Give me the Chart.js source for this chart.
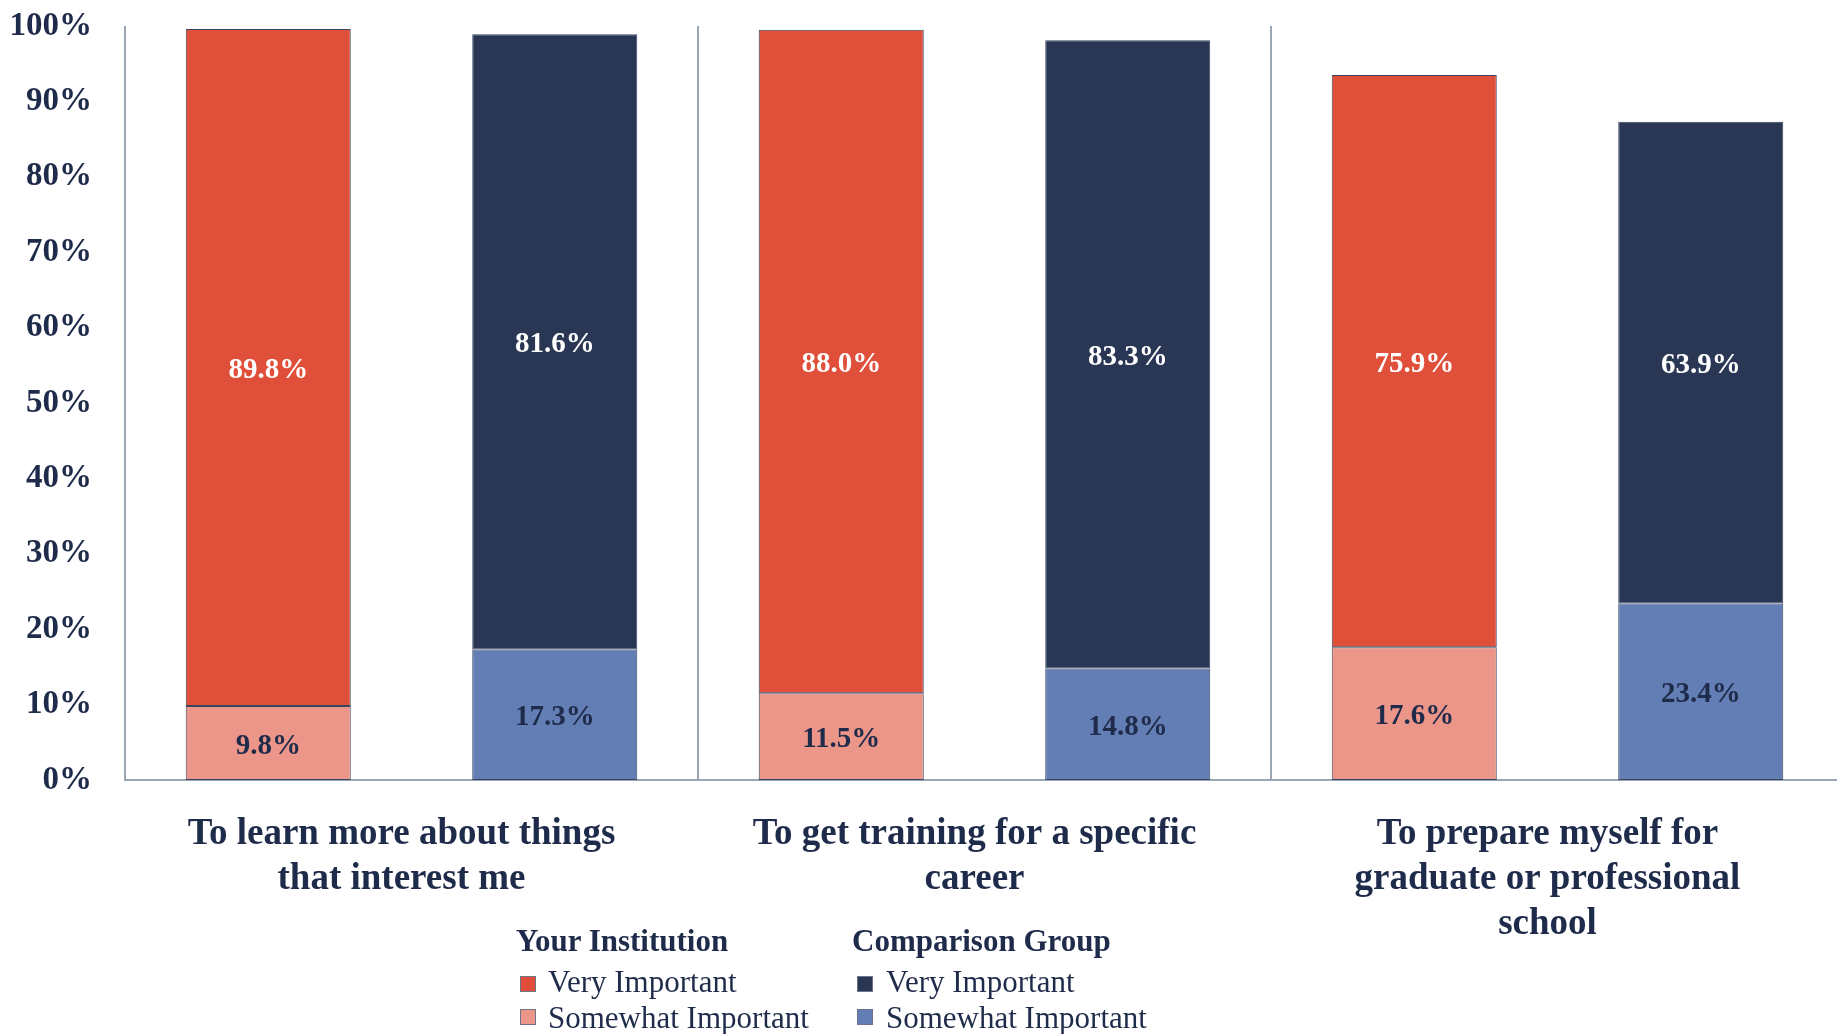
<!DOCTYPE html>
<html>
<head>
<meta charset="utf-8">
<script src="https://cdn.jsdelivr.net/npm/chart.js@4"></script>
<style>
  html, body { margin: 0; padding: 0; background: #ffffff; overflow: hidden; }
  #wrap { position: relative; width: 1837px; height: 1034px; overflow: hidden; }
  #c { position: absolute; left: 0; top: 0; }
  .lg { position: absolute; font-family: "Liberation Serif", serif; color: #1f2b4a; font-size: 31px; line-height: 31px; white-space: nowrap; }
  .hd { font-weight: bold; }
  .sw { position: absolute; width: 16px; height: 16px; border: 1px solid #6b7488; box-sizing: border-box; }
</style>
</head>
<body>
<div id="wrap">
  <canvas id="c" width="1844" height="1034"></canvas>
  <div class="lg hd" style="left:516px; top:925px;">Your Institution</div>
  <div class="sw" style="left:520px; top:976px; background:#E04F39;"></div>
  <div class="lg" style="left:548px; top:966px;">Very Important</div>
  <div class="sw" style="left:520px; top:1009px; background:#EC9589;"></div>
  <div class="lg" style="left:548px; top:1002px;">Somewhat Important</div>
  <div class="lg hd" style="left:852px; top:925px;">Comparison Group</div>
  <div class="sw" style="left:857px; top:976px; background:#293755;"></div>
  <div class="lg" style="left:886px; top:966px;">Very Important</div>
  <div class="sw" style="left:857px; top:1009px; background:#637EB4;"></div>
  <div class="lg" style="left:886px; top:1002px;">Somewhat Important</div>
</div>
<script>
const categories = [
  ["To learn more about things", "that interest me"],
  ["To get training for a specific", "career"],
  ["To prepare myself for", "graduate or professional", "school"]
];
const instVery = [89.8, 88.0, 75.9];
const instSomewhat = [9.8, 11.5, 17.6];
const compVery = [81.6, 83.3, 63.9];
const compSomewhat = [17.3, 14.8, 23.4];
const yTicks = [0, 10, 20, 30, 40, 50, 60, 70, 80, 90, 100];

const FONT = "'Liberation Serif', serif";
const NAVY_TEXT = '#1f2b4a';
const AXIS_GRAY = '#9ba6b4';

const barLabels = {
  id: 'barLabels',
  afterDatasetsDraw(chart) {
    const ctx = chart.ctx;
    ctx.save();
    ctx.font = "bold 29px " + FONT;
    ctx.textAlign = 'center';
    ctx.textBaseline = 'middle';
    chart.data.datasets.forEach((ds, di) => {
      const meta = chart.getDatasetMeta(di);
      meta.data.forEach((el, i) => {
        const v = ds.data[i];
        const p = el.getProps(['x', 'y', 'base'], true);
        ctx.fillStyle = ds.labelColor;
        ctx.fillText(v.toFixed(1) + '%', p.x, (p.y + p.base) / 2 + 3);
      });
    });
    ctx.restore();
  }
};

const common = { borderColor: '#3a4562', borderWidth: 1, borderSkipped: false, barPercentage: 0.576, categoryPercentage: 1.0 };

new Chart(document.getElementById('c'), {
  type: 'bar',
  data: {
    labels: categories,
    datasets: [
      Object.assign({ label: 'Your Institution - Somewhat Important', data: instSomewhat, stack: 'inst', backgroundColor: '#EC9589', labelColor: NAVY_TEXT }, common),
      Object.assign({ label: 'Your Institution - Very Important', data: instVery, stack: 'inst', backgroundColor: '#E04F39', labelColor: '#ffffff' }, common),
      Object.assign({ label: 'Comparison Group - Somewhat Important', data: compSomewhat, stack: 'comp', backgroundColor: '#637EB4', labelColor: NAVY_TEXT }, common),
      Object.assign({ label: 'Comparison Group - Very Important', data: compVery, stack: 'comp', backgroundColor: '#293755', labelColor: '#ffffff' }, common)
    ]
  },
  options: {
    responsive: false,
    animation: false,
    layout: { padding: { top: 26, right: 0, bottom: 0, left: 0 } },
    plugins: { legend: { display: false }, tooltip: { enabled: false }, title: { display: false } },
    scales: {
      x: {
        stacked: true,
        offset: true,
        grid: { display: true, offset: true, drawTicks: false, color: AXIS_GRAY, lineWidth: 2 },
        border: { display: true, color: AXIS_GRAY, width: 2 },
        ticks: { color: NAVY_TEXT, padding: 32, labelOffset: -10, maxRotation: 0, autoSkip: false, font: { family: FONT, size: 37, weight: 'bold', lineHeight: 1.22 } },
        afterFit(scale) { scale.height = 254; }
      },
      y: {
        stacked: true,
        min: 0, max: 100,
        afterBuildTicks(scale) { scale.ticks = yTicks.map(v => ({ value: v })); },
        grid: { display: false, drawTicks: false },
        border: { display: false },
        ticks: { color: NAVY_TEXT, padding: 33, font: { family: FONT, size: 33, weight: 'bold' }, callback: v => v + '%' },
        afterFit(scale) { scale.width = 125; scale.paddingTop = 0; scale.paddingBottom = 0; }
      }
    }
  },
  plugins: [barLabels]
});
</script>
</body>
</html>
